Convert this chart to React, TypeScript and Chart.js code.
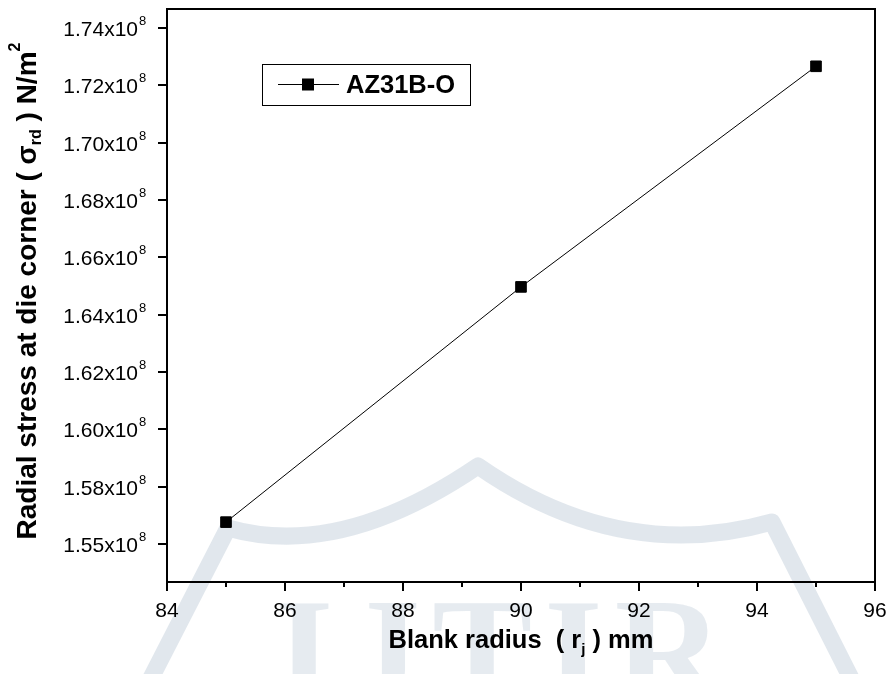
import React, { useEffect, useRef } from "react";
import { Chart, registerables } from "chart.js";

Chart.register(...registerables);

const seriesLabel = "AZ31B-O";
const blankRadius = [85, 90, 95];
const radialStress = [1.5676e8, 1.6497e8, 1.7267e8];

const xMin = 84;
const xMax = 96;
const xMajorTicks = [84, 86, 88, 90, 92, 94, 96];
const xMinorTicks = [85, 87, 89, 91, 93, 95];

const yMin = 1.5467e8;
const yMax = 1.7467e8;
const yTickValues = [1.56e8, 1.58e8, 1.6e8, 1.62e8, 1.64e8, 1.66e8, 1.68e8, 1.7e8, 1.72e8, 1.74e8];
const yTickLabels = ["1.55", "1.58", "1.60", "1.62", "1.64", "1.66", "1.68", "1.70", "1.72", "1.74"];

const FONT = "'Liberation Sans', Arial, Helvetica, sans-serif";

type Seg = { text: string; font: string; dy: number };

function drawRich(ctx: CanvasRenderingContext2D, segs: Seg[], cx: number, cy: number) {
  let total = 0;
  const widths: number[] = [];
  for (const s of segs) {
    ctx.font = s.font;
    const w = ctx.measureText(s.text).width;
    widths.push(w);
    total += w;
  }
  let x = cx - total / 2;
  ctx.textAlign = "left";
  ctx.textBaseline = "middle";
  segs.forEach((s, i) => {
    ctx.font = s.font;
    ctx.fillText(s.text, x, cy + s.dy);
    x += widths[i];
  });
}

const watermarkPlugin = {
  id: "watermark",
  beforeDraw(chart: any) {
    const ctx = chart.ctx as CanvasRenderingContext2D;
    ctx.save();
    ctx.fillStyle = "#ffffff";
    ctx.fillRect(0, 0, chart.width, chart.height);
    ctx.strokeStyle = "rgba(218,225,233,0.8)";
    ctx.lineWidth = 17;
    ctx.lineJoin = "round";
    ctx.beginPath();
    ctx.moveTo(150, 680);
    ctx.lineTo(228, 528);
    ctx.quadraticCurveTo(340, 560, 478, 466);
    ctx.quadraticCurveTo(620, 565, 772, 522);
    ctx.lineTo(862, 700);
    ctx.stroke();
    ctx.fillStyle = "rgba(222,228,235,0.75)";
    ctx.font = "bold 150px 'Liberation Serif', 'DejaVu Serif', serif";
    (ctx as any).letterSpacing = "12px";
    ctx.textAlign = "center";
    ctx.textBaseline = "top";
    ctx.fillText("IJTIR", 505, 588);
    ctx.restore();
  },
};

const axesPlugin = {
  id: "axesDecor",
  afterDatasetsDraw(chart: any) {
    const ctx = chart.ctx as CanvasRenderingContext2D;
    const { left, right, top, bottom } = chart.chartArea;
    const xs = chart.scales.x;
    const ys = chart.scales.y;
    ctx.save();
    ctx.strokeStyle = "#000";
    ctx.fillStyle = "#000";
    ctx.lineWidth = 2;
    ctx.strokeRect(left, top, right - left, bottom - top);

    // y ticks
    yTickValues.forEach((v, i) => {
      const y = Math.round(ys.getPixelForValue(v));
      ctx.beginPath();
      ctx.moveTo(left - 9, y);
      ctx.lineTo(left, y);
      ctx.stroke();
      ctx.font = `21px ${FONT}`;
      ctx.textAlign = "right";
      ctx.textBaseline = "middle";
      ctx.fillText(yTickLabels[i] + "x10", left - 29, y + 2);
      ctx.font = `13px ${FONT}`;
      ctx.textAlign = "left";
      ctx.fillText("8", left - 28, y - 7);
    });

    // x ticks
    xMajorTicks.forEach((v) => {
      const x = Math.round(xs.getPixelForValue(v));
      ctx.beginPath();
      ctx.moveTo(x, bottom);
      ctx.lineTo(x, bottom + 9);
      ctx.stroke();
      ctx.font = `21px ${FONT}`;
      ctx.textAlign = "center";
      ctx.textBaseline = "middle";
      ctx.fillText(String(v), x, bottom + 29);
    });
    xMinorTicks.forEach((v) => {
      const x = Math.round(xs.getPixelForValue(v));
      ctx.beginPath();
      ctx.moveTo(x, bottom);
      ctx.lineTo(x, bottom + 5);
      ctx.stroke();
    });

    // x title
    const bf = (s: number) => `bold ${s}px ${FONT}`;
    drawRich(
      ctx,
      [
        { text: "Blank radius  ( r", font: bf(25.5), dy: 0 },
        { text: "j", font: bf(15), dy: 9 },
        { text: " ) mm", font: bf(25.5), dy: 0 },
      ],
      (left + right) / 2,
      bottom + 59
    );

    // y title
    ctx.save();
    ctx.translate(28, 291);
    ctx.rotate(-Math.PI / 2);
    drawRich(
      ctx,
      [
        { text: "Radial stress at die corner ( ", font: bf(28), dy: 0 },
        { text: "σ", font: bf(28), dy: 0 },
        { text: "rd", font: bf(16), dy: 9 },
        { text: " ) N/m", font: bf(28), dy: 0 },
        { text: "2", font: bf(16), dy: -12 },
      ],
      0,
      0
    );
    ctx.restore();

    // legend
    ctx.lineWidth = 1;
    ctx.strokeRect(262.5, 64.5, 208, 41);
    ctx.beginPath();
    ctx.moveTo(278, 84.5);
    ctx.lineTo(339, 84.5);
    ctx.stroke();
    ctx.fillRect(302, 78.5, 12, 12);
    ctx.font = bf(25.5);
    ctx.textAlign = "left";
    ctx.textBaseline = "middle";
    ctx.fillText(chart.data.datasets[0].label, 346, 86);

    ctx.restore();
  },
};

export default function App() {
  const ref = useRef<HTMLCanvasElement | null>(null);
  useEffect(() => {
    if (!ref.current) return;
    const chart = new Chart(ref.current, {
      type: "line",
      data: {
        datasets: [
          {
            label: seriesLabel,
            data: blankRadius.map((x, i) => ({ x, y: radialStress[i] })),
            borderColor: "#000",
            borderWidth: 1,
            pointStyle: "rect",
            pointRadius: 7.5,
            pointBackgroundColor: "#000",
            pointBorderColor: "#000",
            pointBorderWidth: 1,
            tension: 0,
            fill: false,
          },
        ],
      },
      options: {
        responsive: false,
        animation: false,
        layout: { padding: { left: 167, right: 12, top: 9, bottom: 92 } },
        plugins: { legend: { display: false }, tooltip: { enabled: false } },
        scales: {
          x: { type: "linear", min: xMin, max: xMax, display: false },
          y: { type: "linear", min: yMin, max: yMax, display: false },
        },
      },
      plugins: [watermarkPlugin, axesPlugin],
    });
    return () => chart.destroy();
  }, []);
  return (
    <div style={{ position: "absolute", left: 0, top: 0, width: 887, height: 674 }}>
      <canvas ref={ref} width={887} height={674} style={{ display: "block" }} />
    </div>
  );
}
